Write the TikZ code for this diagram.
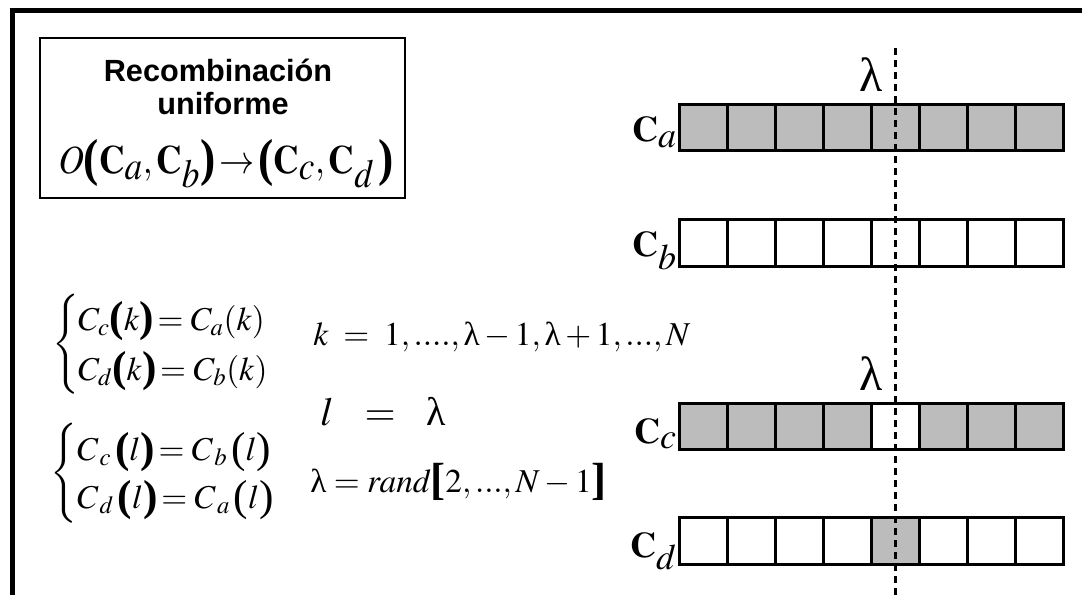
\documentclass[tikz,border=0pt]{standalone}
\usepackage{graphicx}
\usepackage{mathptmx}
\usepackage{fontspec}
\setmainfont{Liberation Serif}
\newfontfamily\headfont{Liberation Sans}
\definecolor{cellgray}{RGB}{188,188,188}
% enlarged parentheses and brackets used inside formulas
\newcommand{\bop}{\mathopen{\raisebox{-1.5pt}{\scalebox{1.3}{\bfseries(}}}}
\newcommand{\bcl}{\mathclose{\raisebox{-1.5pt}{\scalebox{1.3}{\bfseries)}}}}
\newcommand{\rop}{\mathopen{\raisebox{-1.5pt}{\scalebox{1.3}{(}}}}
\newcommand{\rcl}{\mathclose{\raisebox{-1.5pt}{\scalebox{1.3}{)}}}}
\newcommand{\bob}{\mathopen{\raisebox{-2pt}{\scalebox{1.35}{\bfseries[}}}}
\newcommand{\bcb}{\mathclose{\raisebox{-2pt}{\scalebox{1.35}{\bfseries]}}}}
\newcommand{\lam}{\mathord{\mbox{λ}}}
\newcommand{\chr}[1]{\mathbf{C}_{\textstyle #1}}
% curly brace of a given half height, centred on the math axis
\newcommand{\leftbrace}[1]{$\left\{\vcenter{\hbox{\vrule height #1 depth #1 width 0pt}}\right.$}
\begin{document}
\begin{tikzpicture}[x=0.75pt,y=-0.75pt,
  cell/.style={draw=black, line width=2.25pt, minimum width=36pt, minimum height=35pt,
               inner sep=0pt, outer sep=0pt},
  gcell/.style={cell, fill=cellgray},
  wcell/.style={cell, fill=white},
  chromlabel/.style={anchor=base east, inner sep=0pt, font=\fontsize{27}{30}\selectfont},
  cutlabel/.style={anchor=base, inner sep=0pt, font=\fontsize{36}{40}\selectfont},
  eqn/.style={anchor=base west, inner sep=0pt, font=\fontsize{25}{28}\selectfont},
  brace/.style={anchor=center, inner sep=0pt, font=\fontsize{25}{28}\selectfont},
  heading/.style={anchor=base, inner sep=0pt, font=\headfont\bfseries\fontsize{23}{27}\selectfont}]
\useasboundingbox (0,0) rectangle (1082,595);

% outer frame (top and left sides)
\draw[line width=3.75pt] (12.5,600) -- (12.5,10.5) -- (1090,10.5);

% title box
\node (titlebox) [draw, line width=2pt, inner sep=0pt, minimum width=273.75pt,
      minimum height=120pt] at (222.5,118) {};
\node (t1) [heading] at (218,82) {Recombinación};
\node (t2) [heading] at (223,115) {uniforme};
\node (t3) [anchor=base, inner sep=0pt, font=\fontsize{30}{34}\selectfont] at (226,174)
  {\scalebox{0.88}[1]{$O\bop\chr{a},\chr{b}\bcl\!\rightarrow\!\bop\chr{c},\chr{d}\,\bcl$}};

% equations for the genes outside the cut point
\node (br1) [brace] at (67,344) {\leftbrace{33pt}};
\node (e1) [eqn] at (78,330) {$C_{c}\bop k\bcl\!= C_{a}(k)$};
\node (e2) [eqn] at (78,380) {$C_{d}\bop k\bcl\!= C_{b}(k)$};
\node (e3) [eqn] at (313,345) {$k\;=\;1,....,\lam-1,\lam+1,...,N$};
\node (e4) [anchor=base west, inner sep=0pt, font=\fontsize{30}{34}\selectfont] at (320,425)
  {$l\mkern10mu=\mkern10mu\lam$};

% equations for the gene at the cut point
\node (br2) [brace] at (65,473) {\leftbrace{35pt}};
\node (e5) [eqn] at (77,460) {$C_{\,c}\,\bop l\bcl\!= C_{\,b}\,\rop l\rcl$};
\node (e6) [eqn] at (77,508) {$C_{\,d}\,\bop l\bcl\!= C_{\,a}\,\rop l\rcl$};
\node (e7) [eqn] at (310,492) {$\lam = \mathit{rand}\bob 2,...,N-1\bcb$};

% parent chromosomes
\foreach \i in {1,...,8} {
  \node[gcell] (ca\i) at ({655+48*\i},127.5) {};
  \node[wcell] (cb\i) at ({655+48*\i},243) {};
}
% offspring chromosomes
\foreach \i in {1,2,3,4,6,7,8} {
  \node[gcell] (cc\i) at ({655+48*\i},426.5) {};
  \node[wcell] (cd\i) at ({655+48*\i},541) {};
}
\node[wcell] (cc5) at (895,426.5) {};
\node[gcell] (cd5) at (895,541) {};

\node (la) [chromlabel] at (677,142) {$\chr{a}$};
\node (lb) [chromlabel] at (677,257) {$\chr{b}$};
\node (lc) [chromlabel] at (677,443) {$\chr{c}$};
\node (ld) [chromlabel] at (677,557) {$\chr{d}$};

% cut point
\coordinate (cuttop) at (895,48);
\coordinate (cutbot) at (895,600);
\draw[line width=2.25pt, dash pattern=on 5pt off 4pt] (cuttop) -- (cutbot);
\node (lam1) [cutlabel] at (871,92) {$\lam$};
\node (lam2) [cutlabel] at (871,390) {$\lam$};
\end{tikzpicture}
\end{document}
